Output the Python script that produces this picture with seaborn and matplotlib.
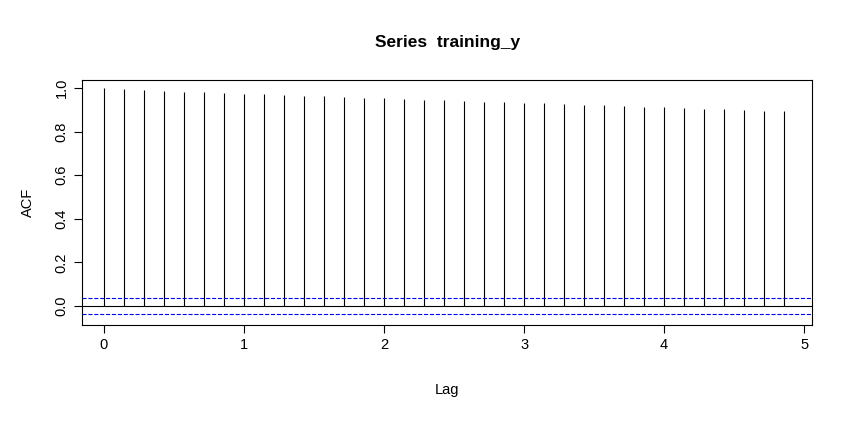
import matplotlib
matplotlib.use("Agg")
import matplotlib.pyplot as plt
import seaborn as sns
import numpy as np

lags = np.arange(35) / 7
acf_vals = [1.0, 0.995, 0.99, 0.986, 0.983, 0.98, 0.977, 0.974, 0.971, 0.968,
            0.965, 0.962, 0.959, 0.956, 0.953, 0.950, 0.947, 0.944, 0.941, 0.938,
            0.935, 0.932, 0.929, 0.926, 0.923, 0.920, 0.917, 0.914, 0.911, 0.908,
            0.905, 0.902, 0.899, 0.896, 0.893]
ci = 0.035

sns.set_style("ticks")
plt.rcParams["font.family"] = ["Liberation Sans", "DejaVu Sans"]
plt.rcParams["text.color"] = "black"
plt.rcParams["axes.labelcolor"] = "black"
plt.rcParams["xtick.color"] = "black"
plt.rcParams["ytick.color"] = "black"

fig = plt.figure(figsize=(8.54, 4.23), dpi=100)
ax = fig.add_axes([0.096, 0.232, 0.855, 0.579])
ax.vlines(lags, 0, acf_vals, color="black", linewidth=0.8)
ax.axhline(0, color="black", linewidth=0.8)
ax.axhline(ci, color="blue", linestyle="--", linewidth=0.8)
ax.axhline(-ci, color="blue", linestyle="--", linewidth=0.8)
ax.set_xlim(-0.157, 5.057)
ax.set_ylim(-0.087, 1.037)
ax.set_xticks([0, 1, 2, 3, 4, 5])
ax.set_yticks([0.0, 0.2, 0.4, 0.6, 0.8, 1.0])
ax.set_yticklabels(["0.0", "0.2", "0.4", "0.6", "0.8", "1.0"], rotation=90, va="center")
ax.tick_params(labelsize=10.5, length=6, color="black")
for s in ax.spines.values():
    s.set_visible(True)
    s.set_color("black")
    s.set_linewidth(0.8)
ax.set_xlabel("Lag", fontsize=10.5, labelpad=22)
ax.set_ylabel("ACF", fontsize=10.5, labelpad=14)
ax.set_title("Series  training_y", fontsize=12.5, fontweight="bold", pad=24)
fig.savefig("out.png", dpi=100)
